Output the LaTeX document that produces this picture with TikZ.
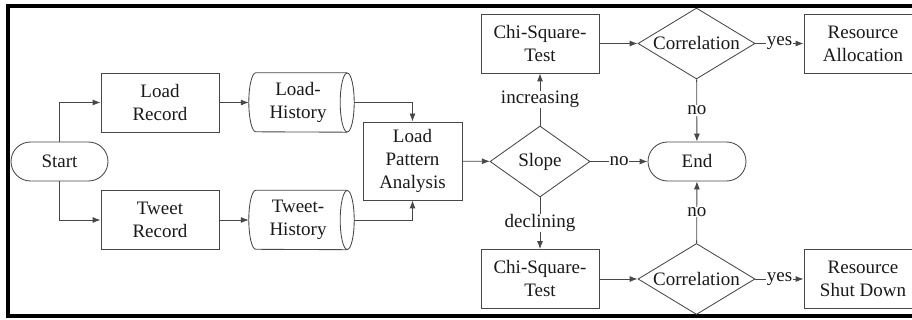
\documentclass[tikz,border=0pt]{standalone}
\usepackage{fontspec}
\setmainfont{Liberation Serif}
\usetikzlibrary{arrows.meta,shapes.geometric}
\newcommand{\fsz}{\fontsize{19}{23}\selectfont}
\begin{document}
\begin{tikzpicture}[x=1pt,y=-1pt,
  line/.style={draw=black!72, line width=0.85pt},
  txt/.style={align=center, inner sep=0pt, font=\fsz, text=black!90},
  box/.style={line, txt, rectangle, minimum width=118pt, minimum height=59pt},
  term/.style={line, txt, rectangle, rounded corners=19.5pt, minimum width=97pt, minimum height=39pt},
  dia/.style={line, txt, diamond, aspect=1.65, minimum width=117pt, minimum height=71pt},
  cyl/.style={txt, rectangle, minimum width=98pt, minimum height=59pt},
  arr/.style={line, -{Latex[length=8pt,width=6pt]}},
  lbl/.style={fill=white, inner sep=0.6pt, font=\fsz, text=black!90}]
\useasboundingbox (0,0) rectangle (912,320);
\draw[line width=4pt, draw=black] (8,5.7) rectangle (940,315.5);
% nodes
\node[term] (start) at (59.5,161.5) {Start};
\node[box] (lr) at (160,102.5) {Load\\Record};
\node[box] (tr) at (160,220) {Tweet\\Record};
\node[cyl] (lh) at (298,102.5) {Load-\\History};
\node[cyl] (th) at (298,220) {Tweet-\\History};
\node[box, minimum width=99pt, minimum height=78pt] (lpa) at (412.5,161) {Load\\Pattern\\Analysis};
\node[dia, minimum width=100pt, minimum height=71pt] (slope) at (540,161.5) {Slope};
\node[term, minimum width=98pt] (end) at (697,161.5) {End};
\node[box] (chi1) at (540,43.5) {Chi-Square-\\Test};
\node[dia] (cor1) at (696.5,43.5) {Correlation};
\node[box] (ra) at (863,43.5) {Resource\\Allocation};
\node[box] (chi2) at (540,279) {Chi-Square-\\Test};
\node[dia] (cor2) at (696.5,279) {Correlation};
\node[box] (rsd) at (863,279) {Resource\\Shut Down};
% cylinder outlines
\foreach \c in {lh,th}{
  \draw[line] (\c.north east) -- ([xshift=7pt]\c.north west)
    arc[start angle=90, end angle=270, x radius=7pt, y radius=29.5pt]
    -- (\c.south east);
  \draw[line] (\c.east) ellipse[x radius=7pt, y radius=29.5pt];
}
% connectors
\draw[arr] (start.north) |- (lr.west);
\draw[arr] (start.south) |- (tr.west);
\draw[arr] (lr) -- (lh);
\draw[arr] (tr) -- (th);
\draw[arr] ([xshift=7pt]lh.east) -| (lpa.north);
\draw[arr] ([xshift=7pt]th.east) -| (lpa.south);
\draw[arr] (lpa) -- (slope);
\draw[arr] (slope) -- node[lbl]{increasing} (chi1);
\draw[arr] (slope) -- node[lbl]{declining} (chi2);
\draw[arr] (slope) -- node[lbl]{no} (end);
\draw[arr] (chi1) -- (cor1);
\draw[arr] (cor1) -- node[lbl]{yes} (ra);
\draw[arr] (cor1) -- node[lbl]{no} (end);
\draw[arr] (chi2) -- (cor2);
\draw[arr] (cor2) -- node[lbl]{yes} (rsd);
\draw[arr] (cor2) -- node[lbl]{no} (end);
\end{tikzpicture}
\end{document}
